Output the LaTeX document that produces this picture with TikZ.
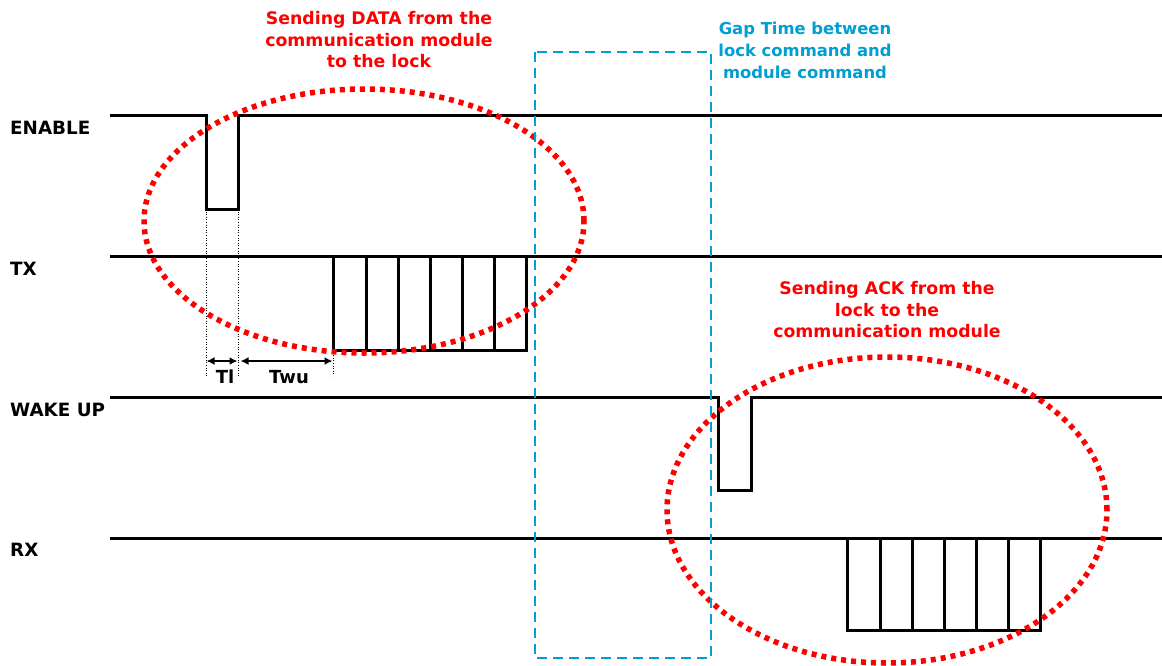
\documentclass[tikz,border=0pt]{standalone}
\usepackage{fontspec}
\setmainfont{DejaVu Sans}
\usetikzlibrary{arrows.meta}
\definecolor{dotred}{RGB}{255,0,0}
\definecolor{gapblue}{RGB}{0,158,210}
\begin{document}
\begin{tikzpicture}[x=1pt,y=-1pt,
  sig/.style={line width=3pt, line join=miter, black},
  guide/.style={line width=1pt, dash pattern=on 1pt off 1.6pt, black},
  dimarrow/.style={line width=1.6pt, {Latex[length=8pt,width=8pt]}-{Latex[length=8pt,width=8pt]}},
  redring/.style={draw=dotred, line width=5.5pt, dash pattern=on 5pt off 5pt},
  gapbox/.style={draw=gapblue, line width=2.6pt, dash pattern=on 10pt off 6pt},
  siglabel/.style={anchor=west, inner sep=0pt, font=\bfseries\fontsize{18.3}{20}\selectfont},
  timelabel/.style={inner sep=0pt, font=\bfseries\fontsize{18}{20}\selectfont},
  redtext/.style={text=dotred, align=center, inner sep=0pt, font=\bfseries\fontsize{17.3}{21.5}\selectfont},
  bluetext/.style={text=gapblue, align=center, inner sep=0pt, font=\bfseries\fontsize{16.4}{22}\selectfont}
]
\useasboundingbox (0,0) rectangle (1162,665);
\fill[white] (0,0) rectangle (1162,665);

% signal labels
\node[siglabel] (lenable) at (10,128) {ENABLE};
\node[siglabel] (ltx) at (10,269) {TX};
\node[siglabel] (lwake) at (10,410) {WAKE UP};
\node[siglabel] (lrx) at (10,550) {RX};

% ENABLE
\draw[sig] (110,115) -- (206,115) -- (206,209) -- (238,209) -- (238,115) -- (1162,115);
% TX
\draw[sig] (110,256) -- (1162,256);
\draw[sig] (333,256) rectangle (526,350);
\foreach \xx in {366,398,430,462,494} \draw[sig] (\xx,256) -- (\xx,350);
% WAKE UP
\draw[sig] (110,397) -- (718,397) -- (718,490) -- (751,490) -- (751,397) -- (1162,397);
% RX
\draw[sig] (110,538) -- (1162,538);
\draw[sig] (847,538) rectangle (1040,630);
\foreach \xx in {880,912,944,976,1008} \draw[sig] (\xx,538) -- (\xx,630);

% timing guides
\draw[guide] (206,209) -- (206,376);
\draw[guide] (238,209) -- (238,376);
\draw[guide] (333,350) -- (333,376);
\coordinate (tla) at (206.5,361);
\coordinate (tlb) at (237.5,361);
\coordinate (twa) at (240.5,361);
\coordinate (twb) at (332.5,361);
\draw[dimarrow] (tla) -- (tlb);
\draw[dimarrow] (twa) -- (twb);
\node[timelabel] (tl) at (225,377) {Tl};
\node[timelabel] (twu) at (289,377) {Twu};

% red rings
\draw[redring] (364,221) ellipse [x radius=220pt, y radius=132pt];
\draw[redring] (887,510) ellipse [x radius=220pt, y radius=153pt];

% gap box
\draw[gapbox] (535,52) rectangle (711,658);

% texts
\node[redtext] (t1) at (379,40) {Sending DATA from the\\communication module\\to the lock};
\node[redtext] (t2) at (887,310) {Sending ACK from the\\lock to the\\communication module};
\node[bluetext] (t3) at (805,50) {Gap Time between\\lock command and\\module command};
\end{tikzpicture}
\end{document}
